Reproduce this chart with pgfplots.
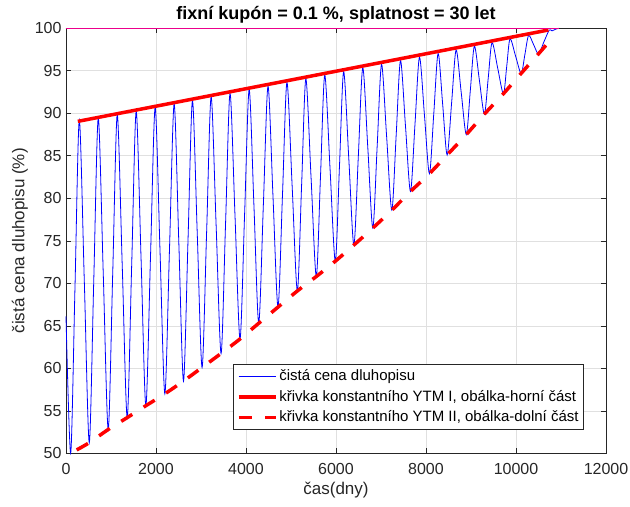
\documentclass[border=0pt]{standalone}
\usepackage{fontspec}
\setmainfont{Liberation Sans}
\usepackage{pgfplots}
\pgfplotsset{compat=1.18}

\definecolor{axgray}{rgb}{0.15,0.15,0.15}
\definecolor{gridgray}{rgb}{0.88,0.88,0.88}

\begin{document}
\begin{tikzpicture}
\useasboundingbox (-66bp,-53.7bp) rectangle (564bp,453.3bp);
\begin{axis}[
    at={(0,0)}, anchor=south west,
    scale only axis,
    width=540bp, height=425bp,
    xmin=0, xmax=12000,
    ymin=50, ymax=100,
    xtick={0,2000,4000,6000,8000,10000,12000},
    ytick={50,55,60,65,70,75,80,85,90,95,100},
    scaled x ticks=false,
    /pgf/number format/1000 sep={},
    /pgf/number format/assume math mode=true,
    tick align=inside,
    major tick length=5bp,
    tick style={axgray, line width=0.6bp},
    axis line style={axgray, line width=0.8bp},
    grid=major,
    grid style={gridgray, line width=0.6bp},
    ticklabel style={font=\fontsize{16bp}{19bp}\selectfont, text=axgray},
    xticklabel style={yshift=-7bp},
    yticklabel style={xshift=-1bp},
    title={\textbf{fixní kupón = 0.1 \%, splatnost = 30 let}},
    title style={font=\fontsize{18bp}{21bp}\selectfont, yshift=-4bp},
    xlabel={čas(dny)},
    ylabel={čistá cena dluhopisu (\%)},
    label style={font=\fontsize{17bp}{20bp}\selectfont, text=axgray},
    clip=false,
    legend cell align=left,
    legend style={at={(0.959,0.0548)}, anchor=south east,
        draw=axgray, line width=0.6bp, fill=white,
        font=\fontsize{15bp}{18bp}\selectfont,
        inner sep=3bp, row sep=2.5bp,
        nodes={text height=11bp, text depth=3bp}},
    legend image code/.code={\draw[#1] (0bp,0bp) -- (37bp,0bp);},
]
\addplot[blue, line width=0.8bp, smooth] coordinates {
(0,66.1) (104,50.0) (200,69.6) (296,89.2) (407,70.23) (517,51.25) (617,70.35) (717,89.45)
(828,71.13) (938,52.8) (1039,71.33) (1139,89.85) (1250,72.03) (1360,54.2) (1460,72.23) (1560,90.25)
(1668,72.93) (1775,55.6) (1878,73.15) (1981,90.7) (2089,73.85) (2197,57.0) (2300,74.05) (2403,91.1)
(2507,74.8) (2611,58.5) (2711,75.0) (2810,91.5) (2917,75.8) (3024,60.1) (3125,76.03) (3225,91.95)
(3336,76.85) (3446,61.75) (3546,77.05) (3645,92.35) (3756,77.9) (3867,63.45) (3969,78.13) (4070,92.8)
(4177,79.05) (4283,65.3) (4386,79.25) (4489,93.2) (4600,80.2) (4711,67.2) (4811,80.43) (4910,93.65)
(5026,81.38) (5141,69.1) (5236,81.58) (5330,94.05) (5446,82.43) (5562,70.8) (5656,82.65) (5750,94.5)
(5867,83.55) (5984,72.6) (6077,83.75) (6170,94.9) (6284,84.7) (6397,74.5) (6496,84.93) (6595,95.35)
(6707,85.93) (6818,76.5) (6915,86.13) (7012,95.75) (7126,87.18) (7240,78.6) (7337,87.4) (7433,96.2)
(7544,88.5) (7655,80.8) (7755,88.7) (7855,96.6) (7966,89.75) (8076,82.9) (8173,89.98) (8269,97.05)
(8370,91.08) (8470,85.1) (8570,91.28) (8669,97.45) (8782,92.48) (8895,87.5) (8985,92.7) (9075,97.9)
(9186,93.9) (9297,89.9) (9382,94.1) (9467,98.3) (9594,95.3) (9720,92.3) (9794,95.53) (9867,98.75)
(9991,96.73) (10115,94.7) (10198,96.93) (10280,99.15) (10391,98.08) (10501,97.0) (10620,98.4)
(10739,99.8) (10800,99.7) (10880,99.9) (10957,100)
};
\addlegendentry{čistá cena dluhopisu}
\addplot[red, line width=3.5bp] coordinates {(262,89.05) (10720,99.8)};
\addlegendentry{křivka konstantního YTM I, obálka-horní část}
\addplot[red, line width=3.5bp, dash pattern=on 13bp off 13.5bp, smooth] coordinates {
(237,50.4) (517,51.25) (938,52.8) (1360,54.2) (1775,55.6) (2197,57.0) (2611,58.5) (3024,60.1)
(3446,61.75) (3867,63.45) (4283,65.3) (4711,67.2) (5141,69.1) (5562,70.8) (5984,72.6) (6397,74.5)
(6818,76.5) (7240,78.6) (7655,80.8) (8076,82.9) (8470,85.1) (8895,87.5) (9297,89.9) (9720,92.3)
(10115,94.7) (10501,97.0) (10665,98.0)
};
\addlegendentry{křivka konstantního YTM II, obálka-dolní část}
\addplot[magenta, line width=1.2bp, forget plot] coordinates {(0,100) (10957,100)};
\end{axis}
\end{tikzpicture}
\end{document}
